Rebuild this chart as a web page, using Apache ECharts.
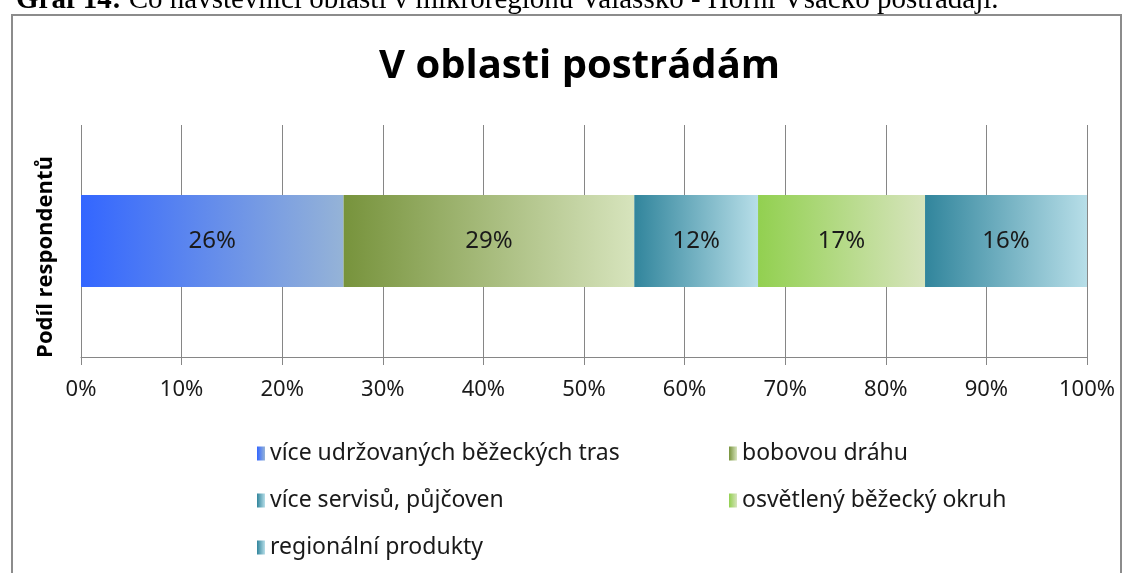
<!DOCTYPE html>
<html>
<head>
<meta charset="utf-8">
<script src="https://cdn.jsdelivr.net/npm/echarts@6/dist/echarts.min.js"></script>
<style>
html,body{margin:0;padding:0;background:#fff;}
#main{width:1132px;height:573px;}
</style>
</head>
<body>
<div id="main"></div>
<script>
// data
let categories = ['Podíl respondentů']
let seriesNames = ['více udržovaných běžeckých tras', 'bobovou dráhu', 'více servisů, půjčoven', 'osvětlený běžecký okruh', 'regionální produkty']
let seriesValues = [26.1, 28.9, 12.3, 16.6, 16.1]
let tickLabels = ['0%', '10%', '20%', '30%', '40%', '50%', '60%', '70%', '80%', '90%', '100%']
// barvy - prechod zleva doprava
let colorFrom = ['#3366FF', '#77933C', '#31859C', '#92D050', '#31859C']
let colorTo = ['#95B3D7', '#D7E4BD', '#B7DEE8', '#D7E4BD', '#B7DEE8']

let font = "'Noto Sans', sans-serif"

let chart = echarts.init(document.getElementById('main'))

let series = seriesNames.map((n, i) => {
    return {
        name: n,
        type: 'bar',
        stack: 'one',
        data: [seriesValues[i]],
        barWidth: 92,
        itemStyle: {
            color: {
                type: 'linear',
                x: 0, y: 0, x2: 1, y2: 0,
                colorStops: [
                    {offset: 0, color: colorFrom[i]},
                    {offset: 1, color: colorTo[i]}
                ]
            }
        },
        label: {
            show: true,
            position: 'inside',
            color: '#1a1a1a',
            fontSize: 24,
            fontFamily: font,
            formatter: p => Math.round(p.value) + '%'
        }
    }
})

let legendBase = {
    orient: 'vertical',
    itemWidth: 8,
    itemHeight: 14,
    itemGap: 24,
    icon: 'rect',
    textStyle: {color: '#1a1a1a', fontSize: 23, fontFamily: font, padding: [0, 0, 0, 0]}
}

let option = {
    animation: false,
    title: {
        text: 'V oblasti postrádám',
        left: 374,
        top: 42,
        textStyle: {fontSize: 40, fontWeight: 'bold', color: '#000', fontFamily: "'Open Sans', 'Noto Sans', sans-serif"}
    },
    graphic: [
        {
            type: 'rect',
            shape: {x: 12, y: 15, width: 1109, height: 600},
            style: {fill: 'none', stroke: '#8c8c8c', lineWidth: 2},
            z: -1
        },
        {
            type: 'text',
            x: 16,
            y: 15,
            style: {
                text: '{b|Graf 14:} Co návštěvníci oblasti v mikroregionu Valašsko - Horní Vsácko postrádají.',
                font: "29px 'Liberation Serif', serif",
                fill: '#000',
                verticalAlign: 'bottom',
                rich: {b: {fontWeight: 'bold', fontSize: 29, fontFamily: 'Liberation Serif'}}
            }
        },
        {
            // popisek osy y
            type: 'text',
            x: 46,
            y: 257,
            rotation: Math.PI / 2,
            style: {
                text: categories[0],
                font: "bold 22px 'Open Sans', 'Noto Sans', sans-serif",
                fill: '#000',
                align: 'center',
                verticalAlign: 'middle'
            }
        }
    ],
    legend: [
        Object.assign({left: 252, top: 437, data: [seriesNames[0], seriesNames[2], seriesNames[4]]}, legendBase),
        Object.assign({left: 724, top: 437, data: [seriesNames[1], seriesNames[3]]}, legendBase)
    ],
    grid: {left: 81, right: 45, top: 125, height: 232},
    xAxis: {
        type: 'value',
        min: 0,
        max: 100,
        interval: 10,
        axisLine: {show: true, lineStyle: {color: '#868686', width: 1}},
        axisTick: {show: true, length: 8, lineStyle: {color: '#868686'}},
        splitLine: {show: true, lineStyle: {color: '#868686', width: 1}},
        axisLabel: {
            color: '#1a1a1a',
            fontSize: 22,
            fontFamily: font,
            margin: 22,
            formatter: (v) => tickLabels[Math.round(v / 10)]
        }
    },
    yAxis: {
        type: 'category',
        data: categories,
        axisLine: {show: false},
        axisTick: {show: false},
        axisLabel: {show: false}
    },
    series: series
}

chart.setOption(option)
</script>
</body>
</html>
